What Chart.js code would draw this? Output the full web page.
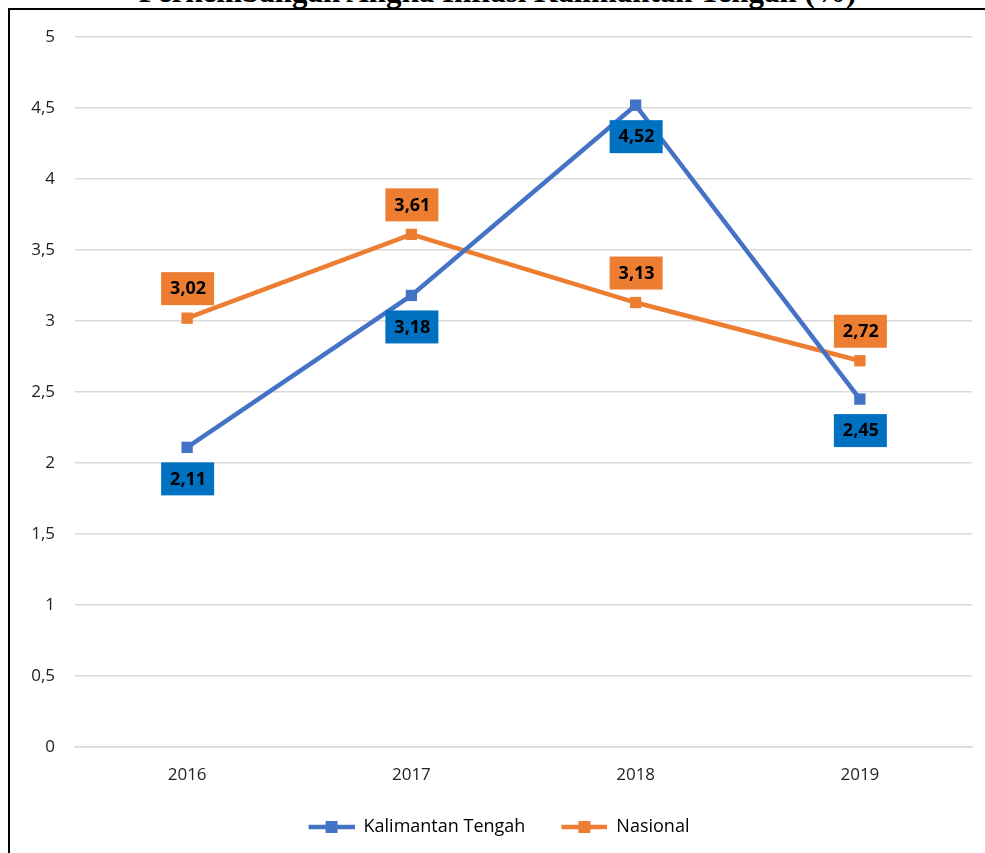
<!DOCTYPE html>
<html lang="id">
<head>
  <meta charset="UTF-8"/>
  <title>Perkembangan Angka Inflasi Kalimantan Tengah (%)</title>
  <script src="https://cdn.jsdelivr.net/npm/chart.js"></script>
  <style>
    html, body { margin: 0; padding: 0; background: #fff; overflow: hidden; }
    #wrap { position: relative; width: 985px; height: 853px; overflow: hidden; }
    #title { position: absolute; left: 0; width: 995px; top: -24px; text-align: center;
             font: bold 31px "Liberation Serif", serif; line-height: 31px; color: #000; }
    #frame { position: absolute; left: 8px; top: 8px; width: 1100px; height: 1000px;
             border-left: 2px solid #000; border-top: 2px solid #000; }
    #chart { position: absolute; left: 0; top: 0; }
  </style>
</head>
<body>
<div id="wrap">
  <div id="title">Perkembangan Angka Inflasi Kalimantan Tengah (%)</div>
  <div id="frame"></div>
  <canvas id="chart" width="985" height="853"></canvas>
</div>
<script>
  const years = ['2016', '2017', '2018', '2019'];
  const kalteng = [2.11, 3.18, 4.52, 2.45];
  const nasional = [3.02, 3.61, 3.13, 2.72];

  const BLUE = '#4472C4', ORANGE = '#ED7D31', BLUE_BOX = '#0070C0';
  const FONT = "'Open Sans', 'Noto Sans', sans-serif";
  const LEAD = 26; // blank space in front of each legend sample

  const fmt = v => String(v).replace('.', ',');

  // legend sample: line with square marker, with a blank lead-in
  function sample(color) {
    const c = document.createElement('canvas');
    c.width = LEAD + 46; c.height = 14;
    const x = c.getContext('2d');
    x.strokeStyle = color; x.lineWidth = 4.5;
    x.beginPath(); x.moveTo(LEAD, 7); x.lineTo(LEAD + 46, 7); x.stroke();
    x.fillStyle = color; x.fillRect(LEAD + 17, 1, 12, 12);
    return c;
  }

  // boxed value labels, orange above the point, blue below
  const boxLabels = {
    id: 'boxLabels',
    afterDatasetsDraw(chart) {
      const ctx = chart.ctx;
      chart.data.datasets.forEach((ds, i) => {
        const meta = chart.getDatasetMeta(i);
        meta.data.forEach((pt, j) => {
          const cy = pt.y + ds.labelOffset;
          ctx.save();
          ctx.fillStyle = ds.boxColor;
          ctx.fillRect(pt.x - 26, cy - 16, 53, 33);
          ctx.fillStyle = '#000';
          ctx.font = 'bold 18px ' + FONT;
          ctx.textAlign = 'center';
          ctx.textBaseline = 'middle';
          ctx.fillText(fmt(ds.data[j]), pt.x + 1, cy + 1);
          ctx.restore();
        });
      });
    }
  };

  new Chart(document.getElementById('chart'), {
    type: 'line',
    data: {
      labels: years,
      datasets: [
        { label: 'Kalimantan Tengah', data: kalteng, borderColor: BLUE, backgroundColor: BLUE,
          boxColor: BLUE_BOX, labelOffset: 31, legendImg: sample(BLUE) },
        { label: 'Nasional', data: nasional, borderColor: ORANGE, backgroundColor: ORANGE,
          boxColor: ORANGE, labelOffset: -30, legendImg: sample(ORANGE) }
      ]
    },
    options: {
      responsive: false,
      animation: false,
      layout: { padding: { top: 37, right: 13, bottom: 7, left: 0 } },
      elements: {
        line: { borderWidth: 4.5, tension: 0 },
        point: { pointStyle: 'rect', radius: 8, hoverRadius: 8, borderWidth: 0 }
      },
      scales: {
        x: {
          offset: true,
          grid: { display: false, drawTicks: false },
          border: { color: '#d9d9d9', width: 1.5 },
          ticks: { padding: 18, color: '#222', font: { family: FONT, size: 17 } },
          afterFit: s => { s.height = 61; }
        },
        y: {
          min: 0, max: 5,
          grid: { color: '#d9d9d9', lineWidth: 1.5, drawTicks: false },
          border: { display: false },
          ticks: { stepSize: 0.5, padding: 20, color: '#222', font: { family: FONT, size: 17 },
                   callback: v => fmt(v) },
          afterFit: s => { s.width = 75; }
        }
      },
      plugins: {
        title: { display: false },
        tooltip: { enabled: false },
        legend: {
          position: 'bottom',
          labels: {
            usePointStyle: true,
            pointStyleWidth: LEAD + 46,
            padding: 10,
            color: '#222',
            font: { family: FONT, size: 18 },
            generateLabels: chart => chart.data.datasets.map((ds, i) => ({
              text: ds.label, pointStyle: ds.legendImg, fillStyle: ds.borderColor,
              strokeStyle: ds.borderColor, lineWidth: 0, datasetIndex: i, hidden: false
            }))
          }
        }
      }
    },
    plugins: [boxLabels]
  });
</script>
</body>
</html>
